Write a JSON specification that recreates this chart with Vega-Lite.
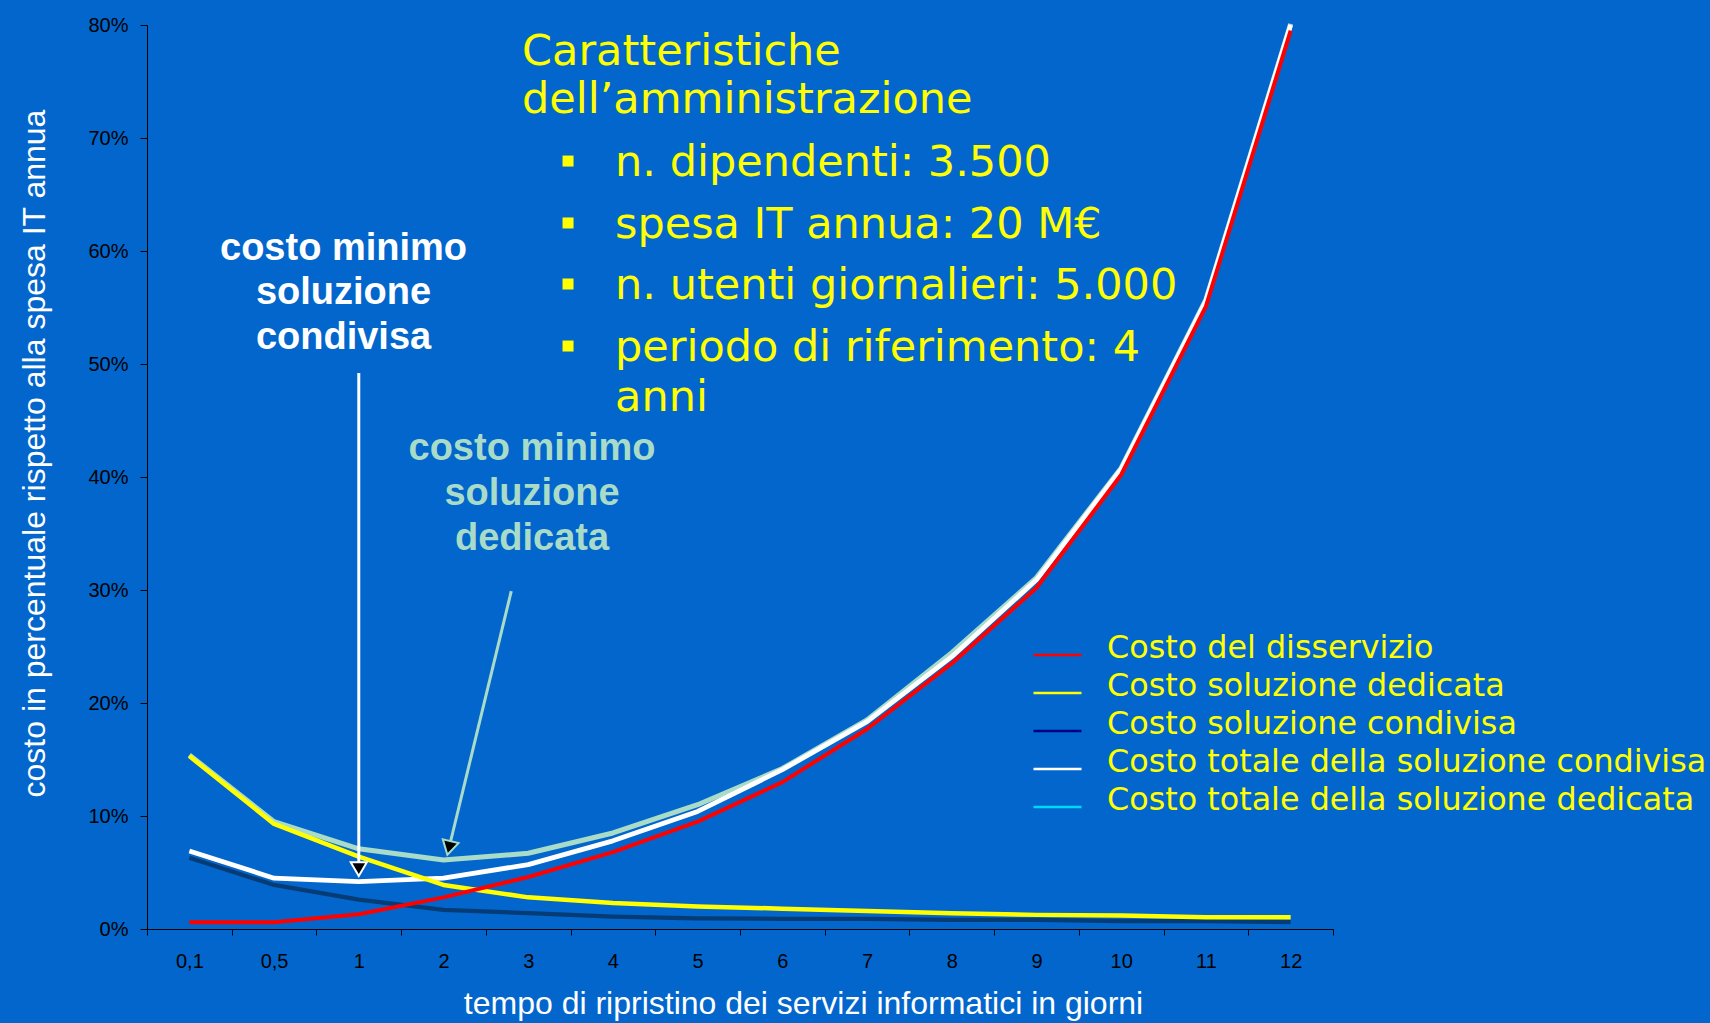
{
  "$schema": "https://vega.github.io/schema/vega-lite/v6.json",
  "width": 1186,
  "height": 904,
  "autosize": {"type": "none"},
  "padding": {"left": 147, "top": 25, "right": 377, "bottom": 94},
  "background": "#0366CC",
  "config": {"view": {"stroke": null}, "axis": {"grid": false}},
  "datasets": {
    "serie": [
      {"tempo": "0,1", "serie": "Costo totale della soluzione dedicata", "valore": 0.154},
      {"tempo": "0,5", "serie": "Costo totale della soluzione dedicata", "valore": 0.095},
      {"tempo": "1", "serie": "Costo totale della soluzione dedicata", "valore": 0.071},
      {"tempo": "2", "serie": "Costo totale della soluzione dedicata", "valore": 0.061},
      {"tempo": "3", "serie": "Costo totale della soluzione dedicata", "valore": 0.067},
      {"tempo": "4", "serie": "Costo totale della soluzione dedicata", "valore": 0.085},
      {"tempo": "5", "serie": "Costo totale della soluzione dedicata", "valore": 0.110},
      {"tempo": "6", "serie": "Costo totale della soluzione dedicata", "valore": 0.142},
      {"tempo": "7", "serie": "Costo totale della soluzione dedicata", "valore": 0.185},
      {"tempo": "8", "serie": "Costo totale della soluzione dedicata", "valore": 0.2445},
      {"tempo": "9", "serie": "Costo totale della soluzione dedicata", "valore": 0.311},
      {"tempo": "10", "serie": "Costo totale della soluzione dedicata", "valore": 0.408},
      {"tempo": "11", "serie": "Costo totale della soluzione dedicata", "valore": 0.557},
      {"tempo": "12", "serie": "Costo totale della soluzione dedicata", "valore": 0.801},
      {"tempo": "0,1", "serie": "Costo totale della soluzione condivisa", "valore": 0.069},
      {"tempo": "0,5", "serie": "Costo totale della soluzione condivisa", "valore": 0.045},
      {"tempo": "1", "serie": "Costo totale della soluzione condivisa", "valore": 0.042},
      {"tempo": "2", "serie": "Costo totale della soluzione condivisa", "valore": 0.045},
      {"tempo": "3", "serie": "Costo totale della soluzione condivisa", "valore": 0.057},
      {"tempo": "4", "serie": "Costo totale della soluzione condivisa", "valore": 0.078},
      {"tempo": "5", "serie": "Costo totale della soluzione condivisa", "valore": 0.104},
      {"tempo": "6", "serie": "Costo totale della soluzione condivisa", "valore": 0.141},
      {"tempo": "7", "serie": "Costo totale della soluzione condivisa", "valore": 0.1835},
      {"tempo": "8", "serie": "Costo totale della soluzione condivisa", "valore": 0.241},
      {"tempo": "9", "serie": "Costo totale della soluzione condivisa", "valore": 0.309},
      {"tempo": "10", "serie": "Costo totale della soluzione condivisa", "valore": 0.407},
      {"tempo": "11", "serie": "Costo totale della soluzione condivisa", "valore": 0.556},
      {"tempo": "12", "serie": "Costo totale della soluzione condivisa", "valore": 0.800},
      {"tempo": "0,1", "serie": "Costo soluzione condivisa", "valore": 0.063},
      {"tempo": "0,5", "serie": "Costo soluzione condivisa", "valore": 0.039},
      {"tempo": "1", "serie": "Costo soluzione condivisa", "valore": 0.026},
      {"tempo": "2", "serie": "Costo soluzione condivisa", "valore": 0.017},
      {"tempo": "3", "serie": "Costo soluzione condivisa", "valore": 0.014},
      {"tempo": "4", "serie": "Costo soluzione condivisa", "valore": 0.011},
      {"tempo": "5", "serie": "Costo soluzione condivisa", "valore": 0.0095},
      {"tempo": "6", "serie": "Costo soluzione condivisa", "valore": 0.009},
      {"tempo": "7", "serie": "Costo soluzione condivisa", "valore": 0.009},
      {"tempo": "8", "serie": "Costo soluzione condivisa", "valore": 0.008},
      {"tempo": "9", "serie": "Costo soluzione condivisa", "valore": 0.008},
      {"tempo": "10", "serie": "Costo soluzione condivisa", "valore": 0.007},
      {"tempo": "11", "serie": "Costo soluzione condivisa", "valore": 0.007},
      {"tempo": "12", "serie": "Costo soluzione condivisa", "valore": 0.006},
      {"tempo": "0,1", "serie": "Costo soluzione dedicata", "valore": 0.153},
      {"tempo": "0,5", "serie": "Costo soluzione dedicata", "valore": 0.093},
      {"tempo": "1", "serie": "Costo soluzione dedicata", "valore": 0.064},
      {"tempo": "2", "serie": "Costo soluzione dedicata", "valore": 0.039},
      {"tempo": "3", "serie": "Costo soluzione dedicata", "valore": 0.028},
      {"tempo": "4", "serie": "Costo soluzione dedicata", "valore": 0.023},
      {"tempo": "5", "serie": "Costo soluzione dedicata", "valore": 0.020},
      {"tempo": "6", "serie": "Costo soluzione dedicata", "valore": 0.018},
      {"tempo": "7", "serie": "Costo soluzione dedicata", "valore": 0.016},
      {"tempo": "8", "serie": "Costo soluzione dedicata", "valore": 0.014},
      {"tempo": "9", "serie": "Costo soluzione dedicata", "valore": 0.0125},
      {"tempo": "10", "serie": "Costo soluzione dedicata", "valore": 0.012},
      {"tempo": "11", "serie": "Costo soluzione dedicata", "valore": 0.0105},
      {"tempo": "12", "serie": "Costo soluzione dedicata", "valore": 0.0105},
      {"tempo": "0,1", "serie": "Costo del disservizio", "valore": 0.006},
      {"tempo": "0,5", "serie": "Costo del disservizio", "valore": 0.006},
      {"tempo": "1", "serie": "Costo del disservizio", "valore": 0.013},
      {"tempo": "2", "serie": "Costo del disservizio", "valore": 0.028},
      {"tempo": "3", "serie": "Costo del disservizio", "valore": 0.046},
      {"tempo": "4", "serie": "Costo del disservizio", "valore": 0.068},
      {"tempo": "5", "serie": "Costo del disservizio", "valore": 0.095},
      {"tempo": "6", "serie": "Costo del disservizio", "valore": 0.130},
      {"tempo": "7", "serie": "Costo del disservizio", "valore": 0.177},
      {"tempo": "8", "serie": "Costo del disservizio", "valore": 0.235},
      {"tempo": "9", "serie": "Costo del disservizio", "valore": 0.302},
      {"tempo": "10", "serie": "Costo del disservizio", "valore": 0.402},
      {"tempo": "11", "serie": "Costo del disservizio", "valore": 0.551},
      {"tempo": "12", "serie": "Costo del disservizio", "valore": 0.795}
    ],
    "frecce": [
      {"freccia": "condivisa", "x": 2.5, "y": 0.492, "x2": 2.5, "y2": 0.053, "angolo": 0},
      {"freccia": "dedicata", "x": 4.30, "y": 0.299, "x2": 3.565, "y2": 0.0717, "angolo": 13.6}
    ],
    "testi": [
      {"gruppo": "condivisa", "testo": "costo minimo", "x": 2.32, "y": 0.592},
      {"gruppo": "condivisa", "testo": "soluzione", "x": 2.32, "y": 0.553},
      {"gruppo": "condivisa", "testo": "condivisa", "x": 2.32, "y": 0.5133},
      {"gruppo": "dedicata", "testo": "costo minimo", "x": 4.545, "y": 0.415},
      {"gruppo": "dedicata", "testo": "soluzione", "x": 4.545, "y": 0.375},
      {"gruppo": "dedicata", "testo": "dedicata", "x": 4.545, "y": 0.3354},
      {"gruppo": "box", "testo": "Caratteristiche", "x": 4.427, "y": 0.7646},
      {"gruppo": "box", "testo": "dell’amministrazione", "x": 4.427, "y": 0.7221},
      {"gruppo": "box", "testo": "n. dipendenti: 3.500", "x": 5.525, "y": 0.6664},
      {"gruppo": "box", "testo": "spesa IT annua: 20 M€", "x": 5.525, "y": 0.6115},
      {"gruppo": "box", "testo": "n. utenti giornalieri: 5.000", "x": 5.525, "y": 0.5575},
      {"gruppo": "box", "testo": "periodo di riferimento: 4", "x": 5.525, "y": 0.5027},
      {"gruppo": "box", "testo": "anni", "x": 5.525, "y": 0.4584}
    ],
    "punti": [
      {"x": 4.97, "y": 0.6796},
      {"x": 4.97, "y": 0.6248},
      {"x": 4.97, "y": 0.5708},
      {"x": 4.97, "y": 0.5159}
    ]
  },
  "layer": [
    {
      "data": {"name": "serie"},
      "mark": {"type": "line", "strokeJoin": "round"},
      "encoding": {
        "x": {
          "field": "tempo", "type": "ordinal",
          "sort": ["0,1","0,5","1","2","3","4","5","6","7","8","9","10","11","12"],
          "scale": {"type": "band", "paddingInner": 0, "paddingOuter": 0},
          "bandPosition": 0.5,
          "axis": {
            "title": "tempo di ripristino dei servizi informatici in giorni",
            "tickBand": "extent", "labelAngle": 0,
            "domainColor": "#000000", "tickColor": "#000000", "labelColor": "#000000",
            "labelFont": "Liberation Sans", "labelFontSize": 20, "tickSize": 6, "labelPadding": 16,
            "titleColor": "#ffffff", "titleFont": "Liberation Sans", "titleFontSize": 32, "titleFontWeight": "normal",
            "titleX": 656, "titleY": 84, "titleBaseline": "alphabetic", "titleAlign": "center", "titleAnchor": null
          }
        },
        "y": {
          "field": "valore", "type": "quantitative",
          "scale": {"domain": [0, 0.8], "nice": false},
          "axis": {
            "title": "costo  in percentuale rispetto alla spesa IT annua",
            "values": [0, 0.1, 0.2, 0.3, 0.4, 0.5, 0.6, 0.7, 0.8], "format": ".0%",
            "domainColor": "#000000", "tickColor": "#000000", "labelColor": "#000000",
            "labelFont": "Liberation Sans", "labelFontSize": 20, "tickSize": 7, "labelPadding": 12,
            "titleColor": "#ffffff", "titleFont": "Liberation Sans", "titleFontSize": 32, "titleFontWeight": "normal",
            "titleAngle": 270, "titleX": -103, "titleY": 428, "titleBaseline": "alphabetic", "titleAlign": "center"
          }
        },
        "stroke": {
          "field": "serie", "type": "nominal",
          "scale": {"range": ["#ff0000", "#063c76", "#ffff00", "#ffffff", "#a8dcc8"]},
          "legend": null
        },
        "strokeWidth": {
          "field": "serie", "type": "nominal",
          "scale": {"range": [4, 5, 4, 2, 2.5]},
          "legend": null
        }
      }
    },
    {
      "data": {"name": "serie"},
      "transform": [{"filter": "false"}],
      "mark": {"type": "line"},
      "encoding": {
        "x": {
          "field": "tempo", "type": "ordinal",
          "sort": ["0,1","0,5","1","2","3","4","5","6","7","8","9","10","11","12"],
          "scale": {"type": "band", "paddingInner": 0, "paddingOuter": 0},
          "bandPosition": 0.5,
          "axis": null
        },
        "y": {"field": "valore", "type": "quantitative"},
        "color": {
          "field": "serie", "type": "nominal",
          "scale": {
            "domain": ["Costo del disservizio", "Costo soluzione dedicata", "Costo soluzione condivisa", "Costo totale della soluzione condivisa", "Costo totale della soluzione dedicata"],
            "range": ["#ff0000", "#ffff00", "#000080", "#ffffff", "#00d8ff"]
          },
          "legend": {
            "orient": "none", "legendX": 894, "legendY": 606, "title": null, "padding": 0,
            "labelColor": "#ffff00", "labelFont": "DejaVu Sans", "labelFontSize": 31.8, "labelLimit": 800,
            "symbolType": "M-1.6,0.5L1.6,0.5", "symbolSize": 900, "symbolStrokeWidth": 2.5, "symbolOpacity": 1,
            "labelOffset": 33, "rowPadding": 4
          }
        }
      }
    },
    {
      "data": {"name": "frecce"},
      "transform": [{"filter": "datum.freccia == 'condivisa'"}],
      "mark": {"type": "rule", "color": "#ffffff", "strokeWidth": 3},
      "encoding": {
        "x": {"field": "x", "type": "quantitative", "scale": {"domain": [0, 14], "nice": false, "zero": false}, "axis": null},
        "x2": {"field": "x2"},
        "y": {"field": "y", "type": "quantitative"},
        "y2": {"field": "y2"}
      }
    },
    {
      "data": {"name": "frecce"},
      "transform": [{"filter": "datum.freccia == 'dedicata'"}],
      "mark": {"type": "rule", "color": "#a8dcc8", "strokeWidth": 3},
      "encoding": {
        "x": {"field": "x", "type": "quantitative", "scale": {"domain": [0, 14], "nice": false, "zero": false}, "axis": null},
        "x2": {"field": "x2"},
        "y": {"field": "y", "type": "quantitative"},
        "y2": {"field": "y2"}
      }
    },
    {
      "data": {"name": "frecce"},
      "transform": [{"filter": "datum.freccia == 'condivisa'"}],
      "mark": {"type": "point", "shape": "triangle-down", "filled": true, "fill": "#000000", "stroke": "#ffffff", "strokeWidth": 2, "size": 260, "opacity": 1},
      "encoding": {
        "x": {"field": "x2", "type": "quantitative", "scale": {"domain": [0, 14], "nice": false, "zero": false}, "axis": null},
        "y": {"field": "y2", "type": "quantitative"},
        "angle": {"field": "angolo", "type": "quantitative", "scale": null}
      }
    },
    {
      "data": {"name": "frecce"},
      "transform": [{"filter": "datum.freccia == 'dedicata'"}],
      "mark": {"type": "point", "shape": "triangle-down", "filled": true, "fill": "#000000", "stroke": "#a8dcc8", "strokeWidth": 2, "size": 260, "opacity": 1},
      "encoding": {
        "x": {"field": "x2", "type": "quantitative", "scale": {"domain": [0, 14], "nice": false, "zero": false}, "axis": null},
        "y": {"field": "y2", "type": "quantitative"},
        "angle": {"field": "angolo", "type": "quantitative", "scale": null}
      }
    },
    {
      "data": {"name": "testi"},
      "transform": [{"filter": "datum.gruppo == 'condivisa'"}],
      "mark": {"type": "text", "color": "#ffffff", "font": "Liberation Sans", "fontWeight": "bold", "fontSize": 38, "align": "center", "baseline": "alphabetic"},
      "encoding": {
        "x": {"field": "x", "type": "quantitative", "scale": {"domain": [0, 14], "nice": false, "zero": false}, "axis": null},
        "y": {"field": "y", "type": "quantitative"},
        "text": {"field": "testo"}
      }
    },
    {
      "data": {"name": "testi"},
      "transform": [{"filter": "datum.gruppo == 'dedicata'"}],
      "mark": {"type": "text", "color": "#a8dcc8", "font": "Liberation Sans", "fontWeight": "bold", "fontSize": 38, "align": "center", "baseline": "alphabetic"},
      "encoding": {
        "x": {"field": "x", "type": "quantitative", "scale": {"domain": [0, 14], "nice": false, "zero": false}, "axis": null},
        "y": {"field": "y", "type": "quantitative"},
        "text": {"field": "testo"}
      }
    },
    {
      "data": {"name": "testi"},
      "transform": [{"filter": "datum.gruppo == 'box'"}],
      "mark": {"type": "text", "color": "#ffff00", "font": "DejaVu Sans", "fontSize": 43, "align": "left", "baseline": "alphabetic"},
      "encoding": {
        "x": {"field": "x", "type": "quantitative", "scale": {"domain": [0, 14], "nice": false, "zero": false}, "axis": null},
        "y": {"field": "y", "type": "quantitative"},
        "text": {"field": "testo"}
      }
    },
    {
      "data": {"name": "punti"},
      "mark": {"type": "point", "shape": "square", "filled": true, "color": "#ffff00", "size": 121, "opacity": 1},
      "encoding": {
        "x": {"field": "x", "type": "quantitative", "scale": {"domain": [0, 14], "nice": false, "zero": false}, "axis": null},
        "y": {"field": "y", "type": "quantitative"}
      }
    }
  ],
  "resolve": {"scale": {"x": "independent"}}
}
